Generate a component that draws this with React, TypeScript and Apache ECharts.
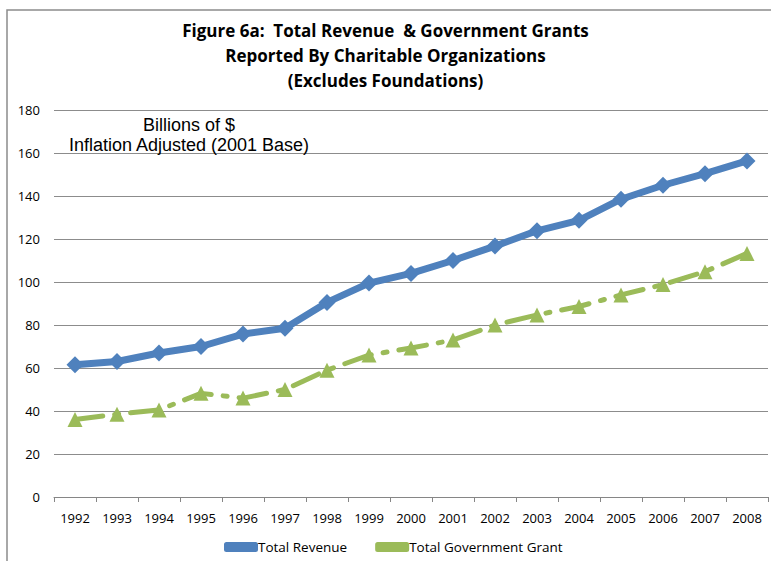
import React, { useEffect, useRef } from "react";
import * as echarts from "echarts";

const years = ["1992","1993","1994","1995","1996","1997","1998","1999","2000","2001","2002","2003","2004","2005","2006","2007","2008"];
const totalRevenue = [61.5, 63, 67, 70, 75.8, 78.5, 90.5, 99.5, 104, 110, 116.7, 123.8, 128.7, 138.5, 145, 150.4, 156.3];
const totalGovGrant = [36, 38.5, 40.5, 48.2, 46, 50, 59, 66, 69.3, 73, 80, 84.7, 88.6, 94, 98.8, 104.8, 113.3];
const titleLines = ["Figure 6a:  Total Revenue  & Government Grants", "Reported By Charitable Organizations", "(Excludes Foundations)"];
const noteLines = ["Billions of $", "Inflation Adjusted (2001 Base)"];

export default function App() {
  const ref = useRef<HTMLDivElement>(null);
  useEffect(() => {
    const chart = echarts.init(ref.current!, null, { renderer: "svg" });
    chart.setOption({
      animation: false,
      backgroundColor: "#fff",
      title: {
        text: titleLines.join("\n"),
        left: "center",
        top: 18,
        padding: 0,
        textStyle: { fontFamily: "Open Sans", fontWeight: "bold", fontSize: 17, lineHeight: 25, color: "#000" },
      },
      graphic: [
        {
          type: "rect",
          shape: { x: 7, y: 10, width: 800, height: 600 },
          style: { fill: "none", stroke: "#8c8c8c", lineWidth: 1.5 },
          silent: true,
        },
        {
          type: "text",
          x: 189,
          y: 115,
          style: {
            text: noteLines.join("\n"),
            textAlign: "center",
            fontFamily: "Liberation Sans",
            fontSize: 18,
            lineHeight: 20,
            fill: "#000",
          },
          z: 10,
        },
      ],
      legend: {
        bottom: 7,
        left: 224,
        padding: 0,
        itemWidth: 34,
        itemHeight: 10,
        itemGap: 28,
        icon: "roundRect",
        textStyle: { fontFamily: "Open Sans", fontSize: 13.5, color: "#000", padding: [0, 0, 0, -5] },
        data: ["Total Revenue", "Total Government Grant"],
      },
      grid: { left: 54, right: 3, top: 110, bottom: 64 },
      xAxis: {
        type: "category",
        data: years,
        boundaryGap: true,
        axisLine: { lineStyle: { color: "#868686", width: 1 } },
        axisTick: { show: true, length: 5, alignWithLabel: false, lineStyle: { color: "#868686" } },
        axisLabel: { fontFamily: "Open Sans", fontSize: 13, color: "#000", margin: 14 },
      },
      yAxis: {
        type: "value",
        min: 0,
        max: 180,
        interval: 20,
        axisLine: { show: false },
        axisTick: { show: false },
        splitLine: { lineStyle: { color: "#8c8c8c", width: 1 } },
        axisLabel: { fontFamily: "Open Sans", fontSize: 13, color: "#000", margin: 14 },
      },
      series: [
        {
          name: "Total Revenue",
          type: "line",
          data: totalRevenue,
          symbol: "diamond",
          symbolSize: 17,
          itemStyle: { color: "#4F81BD" },
          lineStyle: { color: "#4F81BD", width: 7 },
          z: 3,
        },
        {
          name: "Total Government Grant",
          type: "line",
          data: totalGovGrant,
          symbol: "triangle",
          symbolSize: 15,
          itemStyle: { color: "#9BBB59" },
          lineStyle: { color: "#9BBB59", width: 5, type: [28, 12, 4, 12], cap: "round" },
          z: 2,
        },
      ],
    });
    return () => chart.dispose();
  }, []);
  return <div ref={ref} style={{ position: "absolute", left: 0, top: 0, width: 771, height: 561 }} />;
}
